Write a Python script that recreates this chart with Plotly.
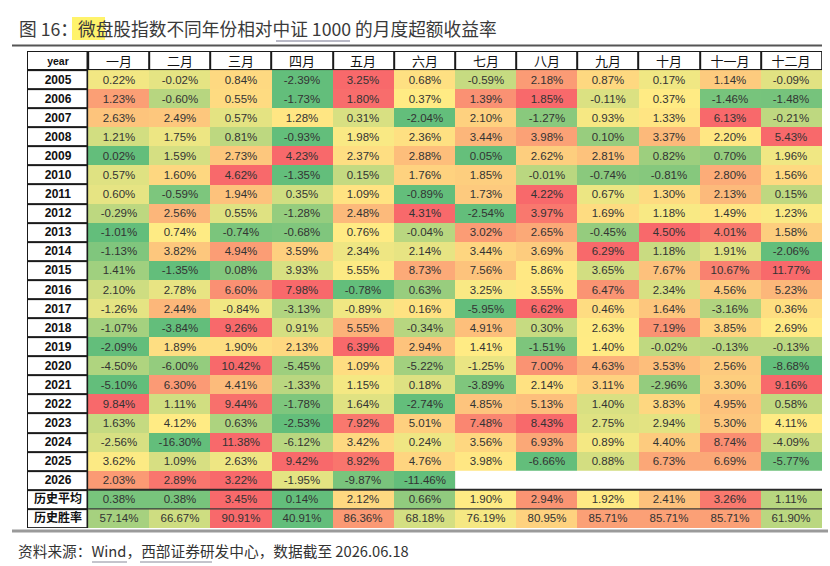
import plotly.graph_objects as go
import numpy as np

# ---------------- data ----------------
months = ["一月", "二月", "三月", "四月", "五月", "六月",
          "七月", "八月", "九月", "十月", "十一月", "十二月"]
years = [str(y) for y in range(2005, 2027)]
summary_labels = ["历史平均", "历史胜率"]
corner_label = "year"

r2005 = [0.22, -0.02, 0.84, -2.39, 3.25, 0.68, -0.59, 2.18, 0.87, 0.17, 1.14, -0.09]
r2006 = [1.23, -0.60, 0.55, -1.73, 1.80, 0.37, 1.39, 1.85, -0.11, 0.37, -1.46, -1.48]
r2007 = [2.63, 2.49, 0.57, 1.28, 0.31, -2.04, 2.10, -1.27, 0.93, 1.33, 6.13, -0.21]
r2008 = [1.21, 1.75, 0.81, -0.93, 1.98, 2.36, 3.44, 3.98, 0.10, 3.37, 2.20, 5.43]
r2009 = [0.02, 1.59, 2.73, 4.23, 2.37, 2.88, 0.05, 2.62, 2.81, 0.82, 0.70, 1.96]
r2010 = [0.57, 1.60, 4.62, -1.35, 0.15, 1.76, 1.85, -0.01, -0.74, -0.81, 2.80, 1.56]
r2011 = [0.60, -0.59, 1.94, 0.35, 1.09, -0.89, 1.73, 4.22, 0.67, 1.30, 2.13, 0.15]
r2012 = [-0.29, 2.56, 0.55, -1.28, 2.48, 4.31, -2.54, 3.97, 1.69, 1.18, 1.49, 1.23]
r2013 = [-1.01, 0.74, -0.74, -0.68, 0.76, -0.04, 3.02, 2.65, -0.45, 4.50, 4.01, 1.58]
r2014 = [-1.13, 3.82, 4.94, 3.59, 2.34, 2.14, 3.44, 3.69, 6.29, 1.18, 1.91, -2.06]
r2015 = [1.41, -1.35, 0.08, 3.93, 5.55, 8.73, 7.56, 5.86, 3.65, 7.67, 10.67, 11.77]
r2016 = [2.10, 2.78, 6.60, 7.98, -0.78, 0.63, 3.25, 3.55, 6.47, 2.34, 4.56, 5.23]
r2017 = [-1.26, 2.44, -0.84, -3.13, -0.89, 0.16, -5.95, 6.62, 0.46, 1.64, -3.16, 0.36]
r2018 = [-1.07, -3.84, 9.26, 0.91, 5.55, -0.34, 4.91, 0.30, 2.63, 7.19, 3.85, 2.69]
r2019 = [-2.09, 1.89, 1.90, 2.13, 6.39, 2.94, 1.41, -1.51, 1.40, -0.02, -0.13, -0.13]
r2020 = [-4.50, -6.00, 10.42, -5.45, 1.09, -5.22, -1.25, 7.00, 4.63, 3.53, 2.56, -8.68]
r2021 = [-5.10, 6.30, 4.41, -1.33, 1.15, 0.18, -3.89, 2.14, 3.11, -2.96, 3.30, 9.16]
r2022 = [9.84, 1.11, 9.44, -1.78, 1.64, -2.74, 4.85, 5.13, 1.40, 3.83, 4.95, 0.58]
r2023 = [1.63, 4.12, 0.63, -2.53, 7.92, 5.01, 7.48, 8.43, 2.75, 2.94, 5.30, 4.11]
r2024 = [-2.56, -16.30, 11.38, -6.12, 3.42, 0.24, 3.56, 6.93, 0.89, 4.40, 8.74, -4.09]
r2025 = [3.62, 1.09, 2.63, 9.42, 8.92, 4.76, 3.98, -6.66, 0.88, 6.73, 6.69, -5.77]
r2026 = [2.03, 2.89, 3.22, -1.95, -9.87, -11.46, None, None, None, None, None, None]
hist_avg = [0.38, 0.38, 3.45, 0.14, 2.12, 0.66, 1.90, 2.94, 1.92, 2.41, 3.26, 1.11]
hist_win = [57.14, 66.67, 90.91, 40.91, 86.36, 68.18, 76.19, 80.95, 85.71, 85.71, 85.71, 61.90]

year_rows = [r2005, r2006, r2007, r2008, r2009, r2010, r2011, r2012, r2013, r2014,
             r2015, r2016, r2017, r2018, r2019, r2020, r2021, r2022, r2023, r2024,
             r2025, r2026]
all_rows = year_rows + [hist_avg, hist_win]
row_labels = years + summary_labels
n_rows = len(all_rows)

# ---------------- per-row 3-colour scale (min / median / max) ----------------
def row_norm(row):
    vals = np.array([v for v in row if v is not None], dtype=float)
    lo, mid, hi = vals.min(), np.median(vals), vals.max()
    out = []
    for v in row:
        if v is None:
            out.append(None)
        elif v <= mid:
            out.append(0.5 if mid == lo else 0.5 * (v - lo) / (mid - lo))
        else:
            out.append(0.5 + 0.5 * (v - mid) / (hi - mid))
    return out


z_data = [row_norm(r) for r in all_rows]
t_data = [["" if v is None else "%.2f%%" % v for v in r] for r in all_rows]

col_x = list(range(1, 13))          # month columns
row_y = list(range(1, n_rows + 1))  # data rows (0 = header row)

blank_x, blank_y = [], []
for i, r in enumerate(all_rows):
    for j, v in enumerate(r):
        if v is None:
            blank_x.append(col_x[j])
            blank_y.append(row_y[i])

excel_scale = [[0.0, "rgb(99,190,123)"], [0.5, "rgb(255,235,132)"], [1.0, "rgb(248,105,107)"]]
white_scale = [[0, "white"], [1, "white"]]

fig = go.Figure()

# coloured data cells
fig.add_trace(go.Heatmap(
    x=col_x, y=row_y, z=z_data, text=t_data, texttemplate="%{text}",
    zmin=0, zmax=1, colorscale=excel_scale, showscale=False, hoverinfo="skip",
    textfont=dict(family="Liberation Sans", size=11.5, color="#333"),
))
# empty (not yet reported) cells
fig.add_trace(go.Heatmap(
    x=blank_x, y=blank_y, z=[0] * len(blank_x),
    colorscale=white_scale, showscale=False, hoverinfo="skip",
))
# row labels column
fig.add_trace(go.Heatmap(
    x=[0] * n_rows, y=row_y, z=[0] * n_rows,
    text=["<b>%s</b>" % s for s in row_labels], texttemplate="%{text}",
    colorscale=white_scale, showscale=False, hoverinfo="skip", xgap=2.5, ygap=2,
    textfont=dict(family="Liberation Sans, Noto Sans CJK SC", size=12, color="#111"),
))
# header row
fig.add_trace(go.Heatmap(
    x=col_x, y=[0] * 12, z=[0] * 12, text=months, texttemplate="%{text}",
    colorscale=white_scale, showscale=False, hoverinfo="skip", xgap=2, ygap=2,
    textfont=dict(family="Noto Sans CJK SC", size=13, color="#111"),
))
# corner
fig.add_trace(go.Heatmap(
    x=[0], y=[0], z=[0], text=["<b>%s</b>" % corner_label], texttemplate="%{text}",
    colorscale=white_scale, showscale=False, hoverinfo="skip", xgap=2.5, ygap=2,
    textfont=dict(family="Liberation Sans", size=10.5, color="#111"),
))

# ---------------- layout geometry (px) ----------------
W, H = 830, 566
ML, MR, MT, MB = 27, 8, 51, 38
PW, PH = W - ML - MR, H - MT - MB


def px(x):
    return (x - ML) / PW


def py(y):
    return 1 - (y - MT) / PH


shapes = []
# title highlight and underline
shapes.append(dict(type="rect", xref="paper", yref="paper", layer="below",
                   x0=px(72), x1=px(105), y0=py(40), y1=py(17),
                   fillcolor="#fff36b", line=dict(width=0)))
shapes.append(dict(type="line", xref="paper", yref="paper",
                   x0=px(276), x1=px(350), y0=py(41), y1=py(41),
                   line=dict(color="#b9b9c6", width=2)))
# top and bottom rules
shapes.append(dict(type="line", xref="paper", yref="paper",
                   x0=px(12), x1=px(822), y0=py(45.5), y1=py(45.5),
                   line=dict(color="#555", width=2)))
shapes.append(dict(type="line", xref="paper", yref="paper",
                   x0=px(12), x1=px(828), y0=py(531), y1=py(531),
                   line=dict(color="#9a9a9a", width=3)))
# summary separators (between 2026 / 历史平均 / 历史胜率)
sep1 = len(years) + 0.5
shapes.append(dict(type="line", xref="x", yref="y",
                   x0=0.5, x1=12.5, y0=sep1, y1=sep1,
                   line=dict(color="#2a2a2a", width=2)))
shapes.append(dict(type="line", xref="x", yref="y",
                   x0=0.5, x1=12.5, y0=sep1 + 1, y1=sep1 + 1,
                   line=dict(color="#3a3a3a", width=1.2)))
# source underlines
shapes.append(dict(type="line", xref="paper", yref="paper",
                   x0=px(92), x1=px(127), y0=py(562), y1=py(562),
                   line=dict(color="#c4c4cc", width=2)))
shapes.append(dict(type="line", xref="paper", yref="paper",
                   x0=px(140), x1=px(212), y0=py(562), y1=py(562),
                   line=dict(color="#c4c4cc", width=2)))

annotations = [
    dict(text="图 16：微盘股指数不同年份相对中证 1000 的月度超额收益率",
         xref="paper", yref="paper", x=px(17), y=py(28),
         xanchor="left", yanchor="middle", showarrow=False,
         font=dict(family="Noto Sans CJK SC", size=17.7, color="#3a3a3a")),
    dict(text="资料来源：Wind，西部证券研发中心，数据截至 2026.06.18",
         xref="paper", yref="paper", x=px(16), y=py(550),
         xanchor="left", yanchor="middle", showarrow=False,
         font=dict(family="Noto Sans CJK SC", size=14.7, color="#333")),
]

fig.update_layout(
    width=W, height=H,
    margin=dict(l=ML, r=MR, t=MT, b=MB),
    paper_bgcolor="white",
    plot_bgcolor="#1a1a1a",
    shapes=shapes,
    annotations=annotations,
    showlegend=False,
    xaxis=dict(range=[-0.5, 12.5], showgrid=False, zeroline=False,
               showticklabels=False, ticks="", fixedrange=True),
    yaxis=dict(range=[n_rows + 0.5, -0.5], showgrid=False, zeroline=False,
               showticklabels=False, ticks="", fixedrange=True),
)

fig.write_html("out.html")
